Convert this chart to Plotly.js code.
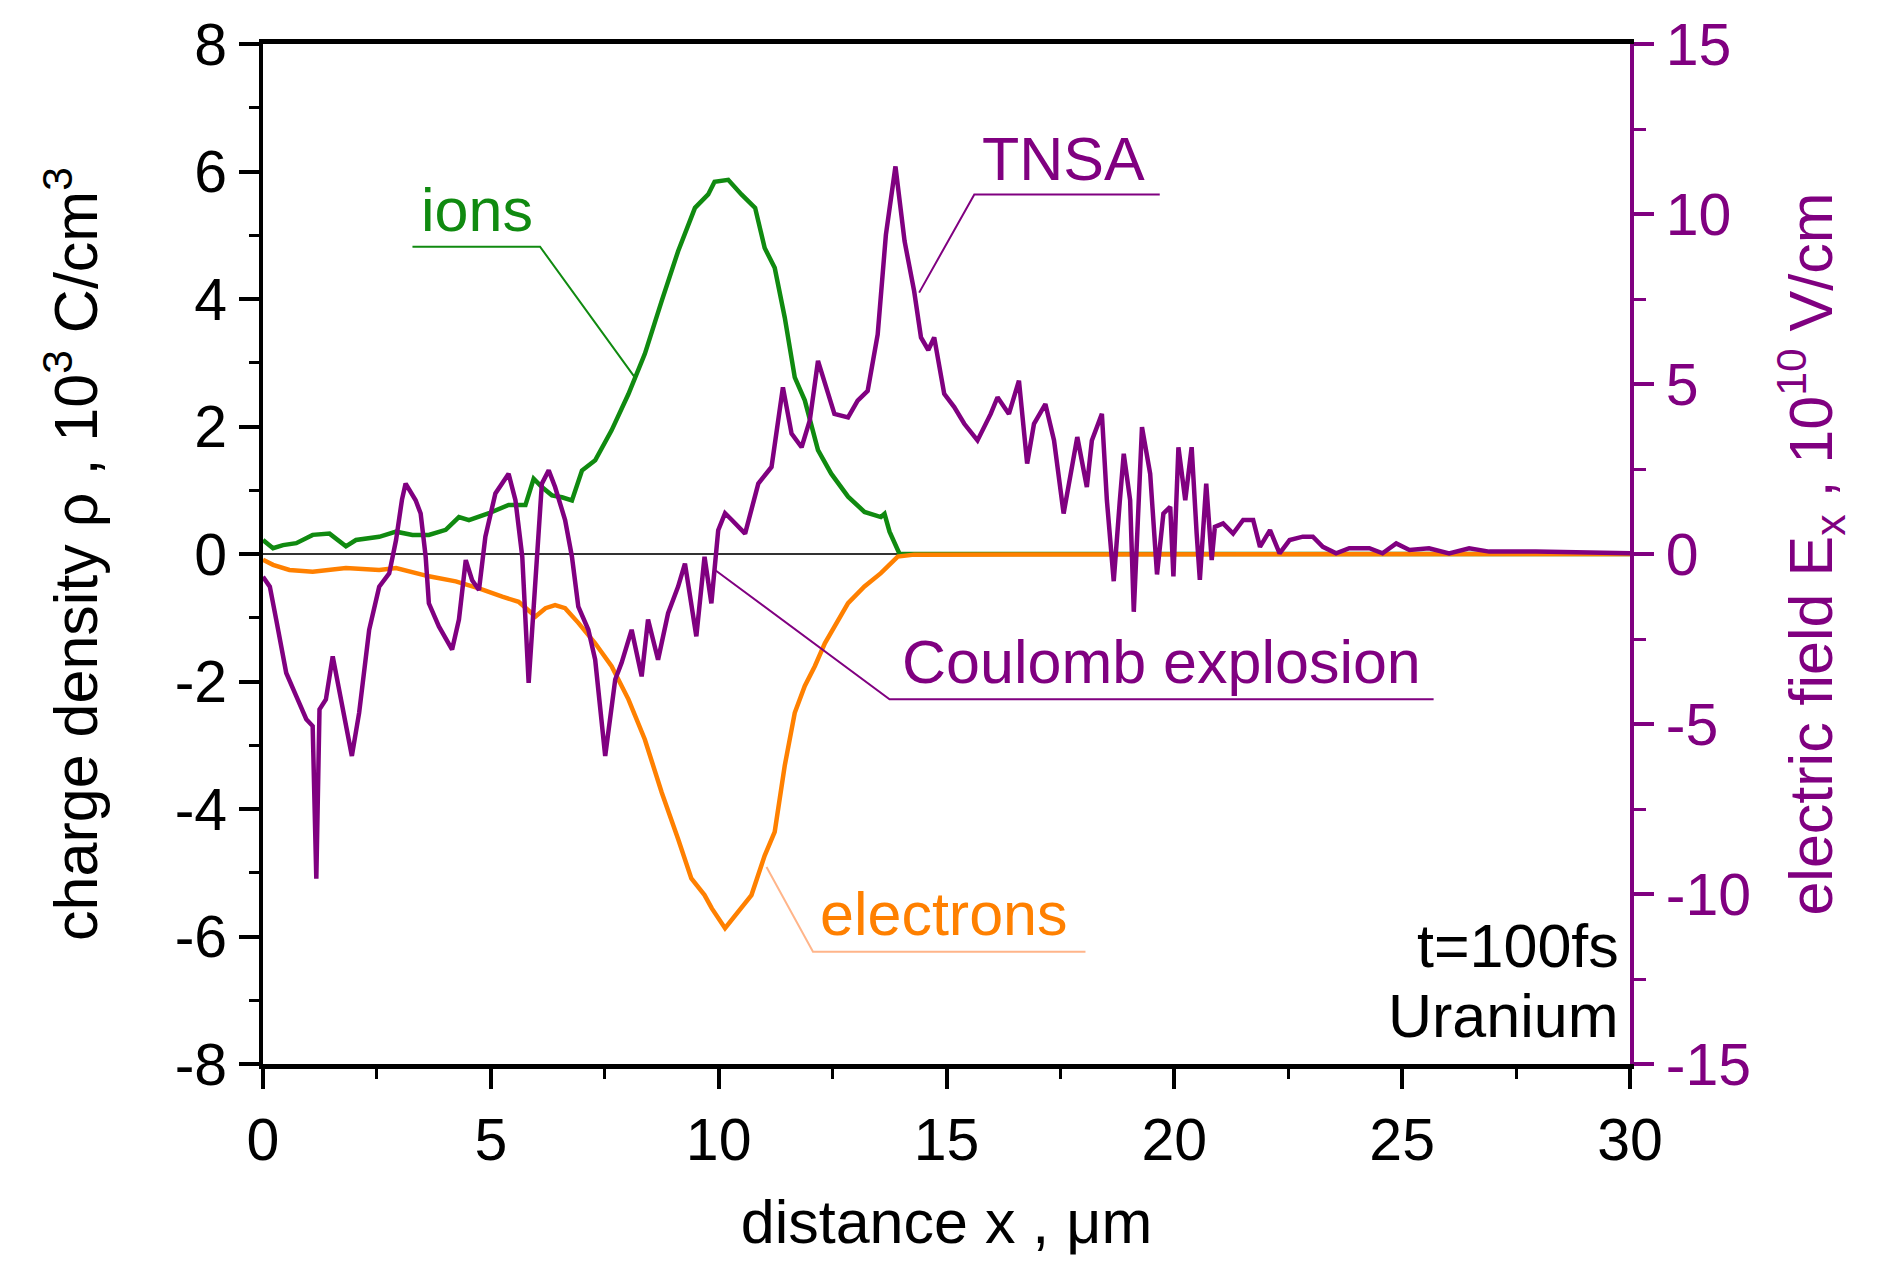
<!DOCTYPE html>
<html>
<head>
<meta charset="utf-8">
<script src="https://cdn.plot.ly/plotly-3.0.1.min.js"></script>
<style>
  html, body { margin: 0; padding: 0; background: #fff; }
  #myDiv { width: 1890px; height: 1270px; }
</style>
</head>
<body>
<div id="myDiv"></div>
<script>
// ion charge density, 10^3 C/cm^3 (left axis)
let ionsX = [0, 0.22, 0.44, 0.73, 1.09, 1.46, 1.82, 2.04, 2.55, 2.92, 3.28, 3.64, 4.01, 4.30, 4.52, 4.96,
  5.39, 5.76, 5.94, 6.12, 6.34, 6.56, 6.78, 7.00, 7.29, 7.65, 8.02, 8.38, 8.75, 9.11, 9.48, 9.77, 9.91,
  10.21, 10.50, 10.80, 11.01, 11.23, 11.45, 11.67, 11.89, 12.18, 12.47, 12.84, 13.20, 13.56, 13.64,
  13.75, 13.97, 30];
let ionsY = [0.22, 0.09, 0.14, 0.17, 0.30, 0.32, 0.12, 0.22, 0.27, 0.35, 0.30, 0.30, 0.38, 0.58, 0.53, 0.64,
  0.77, 0.77, 1.18, 1.05, 0.92, 0.89, 0.84, 1.31, 1.47, 1.94, 2.51, 3.14, 3.97, 4.75, 5.43, 5.64, 5.84,
  5.87, 5.64, 5.43, 4.80, 4.49, 3.71, 2.77, 2.41, 1.63, 1.26, 0.90, 0.66, 0.58, 0.63,
  0.35, 0.0, 0.0];

// electron charge density, 10^3 C/cm^3 (left axis)
let electronsX = [0, 0.22, 0.58, 1.09, 1.82, 2.55, 2.92, 3.28, 3.64, 4.23, 4.74, 5.25, 5.61, 5.98, 6.20,
  6.41, 6.63, 6.92, 7.29, 7.65, 8.02, 8.38, 8.75, 9.11, 9.40, 9.69, 9.85, 10.14, 10.43, 10.72, 11.01,
  11.23, 11.45, 11.67, 11.89, 12.11, 12.33, 12.54, 12.84, 13.20, 13.56, 13.93, 14.29, 30];
let electronsY = [-0.09, -0.17, -0.25, -0.28, -0.22, -0.25, -0.22, -0.28, -0.35, -0.43, -0.54, -0.67, -0.75,
  -0.98, -0.85, -0.80, -0.85, -1.08, -1.40, -1.76, -2.28, -2.91, -3.74, -4.47, -5.09, -5.35, -5.56, -5.87,
  -5.61, -5.35, -4.73, -4.36, -3.32, -2.49, -2.07, -1.76, -1.40, -1.14, -0.77, -0.51, -0.30, -0.04, -0.01, 0];

// electric field Ex, 10^10 V/cm (right axis)
let fieldX = [0, 0.15, 0.29, 0.51, 0.73, 0.95, 1.09, 1.17, 1.24, 1.38, 1.53, 1.75, 1.95, 2.11, 2.33, 2.55,
  2.77, 2.92, 3.05, 3.13, 3.35, 3.46, 3.57, 3.64, 3.86, 4.15, 4.30, 4.45, 4.59, 4.74, 4.88, 5.10, 5.39,
  5.54, 5.69, 5.83, 6.05, 6.12, 6.27, 6.41, 6.63, 6.78, 6.92, 7.14, 7.29, 7.51, 7.73, 7.87, 8.09, 8.31,
  8.45, 8.67, 8.89, 9.11, 9.26, 9.40, 9.51, 9.69, 9.84, 9.99, 10.14, 10.29, 10.58, 10.87, 11.16, 11.41,
  11.60, 11.82, 12.00, 12.18, 12.33, 12.54, 12.84, 13.05, 13.27, 13.49, 13.67, 13.88, 14.08, 14.29, 14.44,
  14.60, 14.73, 14.95, 15.17, 15.39, 15.68, 15.97, 16.12, 16.37, 16.59, 16.77, 16.92, 17.17, 17.36, 17.57,
  17.87, 18.08, 18.19, 18.41, 18.52, 18.67, 18.80, 18.89, 19.03, 19.11, 19.20, 19.29, 19.47, 19.62, 19.76,
  19.91, 19.98, 20.09, 20.24, 20.38, 20.49, 20.56, 20.70, 20.82, 20.89, 21.07, 21.29, 21.51, 21.73, 21.88,
  22.10, 22.31, 22.53, 22.82, 23.04, 23.26, 23.55, 23.84, 24.28, 24.57, 24.87, 25.16, 25.59, 26.03, 26.47,
  26.91, 27.93, 29.0, 30];
let fieldY = [-0.67, -0.96, -1.93, -3.5, -4.18, -4.86, -5.06, -9.55, -4.57, -4.28, -3.01, -4.47, -5.94, -4.67,
  -2.23, -0.96, -0.57, 0.41, 1.6, 2.07, 1.58, 1.19, -0.08, -1.45, -2.13, -2.81, -1.93, -0.18, -0.77, -1.06,
  0.51, 1.78, 2.36, 1.58, -0.08, -3.79, 0.6, 2.07, 2.46, 1.97, 1.0, -0.08, -1.55, -2.23, -3.11, -5.94,
  -3.69, -3.2, -2.23, -3.6, -1.93, -3.11, -1.74, -0.96, -0.28, -1.55, -2.42, -0.08, -1.45, 0.70, 1.2, 1.0,
  0.6, 2.07, 2.56, 4.90, 3.54, 3.14, 3.93, 5.68, 5.0, 4.12, 4.02, 4.51, 4.80, 6.46, 9.39, 11.40, 9.20,
  7.73, 6.37, 6.0, 6.37, 4.71, 4.32, 3.83, 3.34, 4.12, 4.61, 4.12, 5.10, 2.66, 3.83, 4.41, 3.34, 1.19,
  3.44, 1.97, 3.34, 4.12, 1.58, -0.8, 1.5, 2.95, 1.58, -1.7, 1.0, 3.73, 2.36, -0.6, 1.19,
  1.39, -0.66, 3.14, 1.58, 3.14, 0.6, -0.76, 2.07, -0.18, 0.8, 0.9, 0.6, 1.0, 1.0, 0.21,
  0.70, 0.02, 0.41, 0.51, 0.51, 0.21, 0.02, 0.17, 0.17, 0.02, 0.31, 0.12, 0.17, 0.02, 0.17,
  0.07, 0.07, 0.03, 0.02];

// tick labels, written with a plain hyphen as in the original figure
let rhoTicks = [-8, -6, -4, -2, 0, 2, 4, 6, 8];
let rhoTickText = ["-8", "-6", "-4", "-2", "0", "2", "4", "6", "8"];
let fieldTicks = [-15, -10, -5, 0, 5, 10, 15];
let fieldTickText = ["-15", "-10", "-5", "0", "5", "10", "15"];

let purple = "#800080";
let green = "#108a10";
let orange = "#ff8000";
let fontFamily = "Liberation Sans, Arial, sans-serif";

function drawChart() {
  let traceIons = {
    x: ionsX,
    y: ionsY,
    mode: "lines",
    line: { color: green, width: 4.5 },
    yaxis: "y"
  };

  let traceElectrons = {
    x: electronsX,
    y: electronsY,
    mode: "lines",
    line: { color: orange, width: 4.5 },
    yaxis: "y"
  };

  let traceField = {
    x: fieldX,
    y: fieldY,
    mode: "lines",
    line: { color: purple, width: 4.5 },
    xaxis: "x",
    yaxis: "y2"
  };

  // label leader lines, in data units of x / left y
  let leader = (path, color) => ({
    type: "path",
    xref: "x",
    yref: "y",
    path: path,
    line: { color: color, width: 2 }
  });

  let shapes = [
    leader("M 3.28 4.82 L 6.08 4.82 L 8.16 2.77", green),
    leader("M 14.40 4.10 L 15.61 5.64 L 19.68 5.64", purple),
    leader("M 9.92 -0.25 L 13.75 -2.28 L 25.69 -2.28", purple),
    leader("M 11.05 -4.91 L 12.07 -6.24 L 18.05 -6.24", "#ffb58a")
  ];

  let label = (text, x, y, color, xanchor) => ({
    text: text,
    x: x,
    y: y,
    xref: "x",
    yref: "y",
    xanchor: xanchor || "center",
    yanchor: "middle",
    showarrow: false,
    font: { family: fontFamily, size: 61, color: color }
  });

  let annotations = [
    label("ions", 4.70, 5.39, green),
    label("TNSA", 17.57, 6.20, purple),
    label("Coulomb explosion", 19.72, -1.69, purple),
    label("electrons", 14.95, -5.65, orange),
    label("t=100fs", 29.8, -6.15, "#000", "right"),
    label("Uranium", 29.8, -7.25, "#000", "right")
  ];

  let layout = {
    width: 1890,
    height: 1270,
    margin: { l: 263, r: 260, t: 42, b: 206 },
    paper_bgcolor: "#fff",
    plot_bgcolor: "#fff",
    showlegend: false,
    font: { family: fontFamily, size: 59, color: "#000" },
    xaxis: {
      range: [0, 30],
      dtick: 5,
      ticks: "outside",
      ticklen: 20,
      tickwidth: 4,
      tickcolor: "#000",
      minor: { dtick: 2.5, ticks: "outside", ticklen: 10, tickwidth: 3, tickcolor: "#000" },
      showline: true,
      linecolor: "#000",
      linewidth: 5,
      mirror: true,
      showgrid: false,
      zeroline: false,
      tickfont: { size: 59 },
      automargin: true,
      title: { text: "distance x , μm", font: { size: 61 }, standoff: 30 }
    },
    yaxis: {
      range: [-8, 8],
      tickmode: "array",
      tickvals: rhoTicks,
      ticktext: rhoTickText,
      ticks: "outside",
      ticklen: 20,
      tickwidth: 4,
      tickcolor: "#000",
      minor: { dtick: 1, ticks: "outside", ticklen: 10, tickwidth: 3, tickcolor: "#000" },
      showline: true,
      linecolor: "#000",
      linewidth: 4,
      showgrid: false,
      zeroline: true,
      zerolinecolor: "#333",
      zerolinewidth: 2,
      tickfont: { size: 59 },
      automargin: true,
      title: { text: "charge density ρ , 10<sup>3</sup> C/cm<sup>3</sup>", font: { size: 61 }, standoff: 58 }
    },
    yaxis2: {
      overlaying: "y",
      side: "right",
      range: [-15, 15],
      tickmode: "array",
      tickvals: fieldTicks,
      ticktext: fieldTickText,
      ticks: "outside",
      ticklen: 20,
      tickwidth: 4,
      tickcolor: purple,
      minor: { dtick: 2.5, ticks: "outside", ticklen: 12, tickwidth: 3, tickcolor: purple },
      showline: true,
      linecolor: purple,
      linewidth: 4,
      showgrid: false,
      zeroline: false,
      tickfont: { size: 59, color: purple },
      automargin: true,
      title: {
        text: "electric field E<sub>x</sub> , 10<sup>10</sup> V/cm",
        font: { size: 61, color: purple },
        standoff: 40
      }
    },
    shapes: shapes,
    annotations: annotations
  };

  Plotly.newPlot("myDiv", [traceIons, traceElectrons, traceField], layout, { displayModeBar: false });
}

drawChart();
</script>
</body>
</html>
